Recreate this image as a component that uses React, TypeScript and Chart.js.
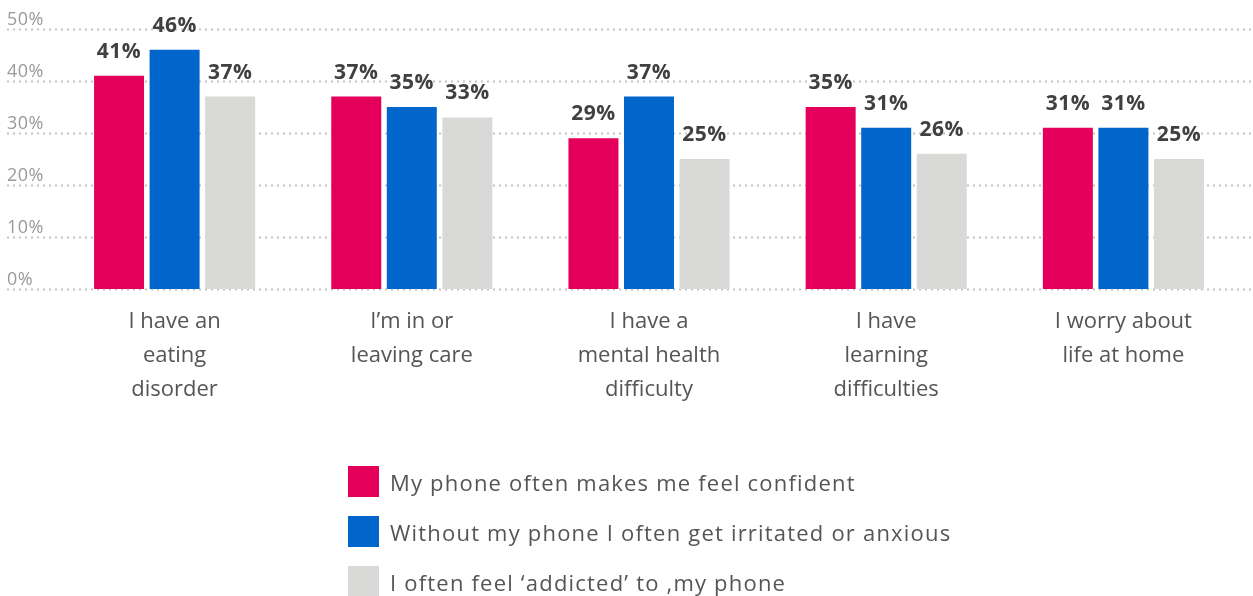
import React, { useEffect, useRef } from "react";
import { Chart, registerables } from "chart.js";

Chart.register(...registerables);

const categories: string[][] = [
  ["I have an", "eating", "disorder"],
  ["I’m in or", "leaving care"],
  ["I have a", "mental health", "difficulty"],
  ["I have", "learning", "difficulties"],
  ["I worry about", "life at home"],
];

const seriesNames = [
  "My phone often makes me feel confident",
  "Without my phone I often get irritated or anxious",
  "I often feel ‘addicted’ to ,my phone",
];

const confident = [41, 37, 29, 35, 31];
const anxious = [46, 35, 37, 31, 31];
const addicted = [37, 33, 25, 26, 25];

const colors = ["#E4005A", "#0066CC", "#D9D9D8"];
const yTicks = [0, 10, 20, 30, 40, 50];

const FONT = "'Open Sans', 'DejaVu Sans', sans-serif";

const overlayPlugin = {
  id: "overlay",
  beforeDatasetsDraw(chart: any) {
    const ctx = chart.ctx;
    const y = chart.scales.y;
    ctx.save();
    ctx.strokeStyle = "#c4c4c4";
    ctx.lineWidth = 2;
    ctx.setLineDash([2, 4]);
    ctx.font = `18px ${FONT}`;
    ctx.fillStyle = "#9a9a9a";
    ctx.textAlign = "left";
    ctx.textBaseline = "alphabetic";
    (ctx as any).letterSpacing = "0.5px";
    for (const t of yTicks) {
      const py = Math.round(y.getPixelForValue(t)) + 0.5;
      ctx.beginPath();
      ctx.moveTo(7, py);
      ctx.lineTo(chart.width, py);
      ctx.stroke();
      ctx.fillText(t + "%", 7, py - 5);
    }
    ctx.restore();
  },
  afterDatasetsDraw(chart: any) {
    const ctx = chart.ctx;
    ctx.save();
    ctx.font = `bold 21px ${FONT}`;
    ctx.fillStyle = "#404040";
    ctx.textAlign = "center";
    ctx.textBaseline = "alphabetic";
    (ctx as any).letterSpacing = "0.5px";
    chart.data.datasets.forEach((ds: any, di: number) => {
      const meta = chart.getDatasetMeta(di);
      meta.data.forEach((bar: any, i: number) => {
        ctx.fillText(ds.data[i] + "%", bar.x, bar.y - 18);
      });
    });
    // legend
    ctx.textAlign = "left";
    ctx.textBaseline = "middle";
    ctx.font = `22px ${FONT}`;
    (ctx as any).letterSpacing = "1.2px";
    chart.data.datasets.forEach((ds: any, di: number) => {
      const top = 466 + di * 50;
      ctx.fillStyle = ds.backgroundColor;
      ctx.fillRect(348, top, 31, 31);
      ctx.fillStyle = "#555555";
      ctx.fillText(ds.label, 390, top + 19);
    });
    ctx.restore();
  },
};

export default function App() {
  const ref = useRef<HTMLCanvasElement>(null);
  useEffect(() => {
    document.body.style.margin = "0";
    const chart = new Chart(ref.current!, {
      type: "bar",
      data: {
        labels: categories,
        datasets: [
          { label: seriesNames[0], data: confident, backgroundColor: colors[0] },
          { label: seriesNames[1], data: anxious, backgroundColor: colors[1] },
          { label: seriesNames[2], data: addicted, backgroundColor: colors[2] },
        ],
      },
      options: {
        animation: false,
        responsive: false,
        maintainAspectRatio: false,
        layout: { padding: { top: 29, left: 56, right: 11, bottom: 167 } },
        datasets: { bar: { barPercentage: 0.9, categoryPercentage: 0.7025 } },
        plugins: { legend: { display: false }, tooltip: { enabled: false } },
        scales: {
          x: {
            grid: { display: false, drawTicks: false },
            border: { display: false },
            ticks: {
              padding: 16,
              color: "#555555",
              font: { family: FONT, size: 22, lineHeight: 34 / 22 },
              maxRotation: 0,
              autoSkip: false,
            },
            afterFit: (s: any) => {
              s.height = 140;
            },
          },
          y: {
            display: false,
            min: 0,
            max: 50,
          },
        },
      },
      plugins: [overlayPlugin],
    });
    return () => chart.destroy();
  }, []);
  return <canvas ref={ref} width={1253} height={596} style={{ display: "block" }} />;
}
